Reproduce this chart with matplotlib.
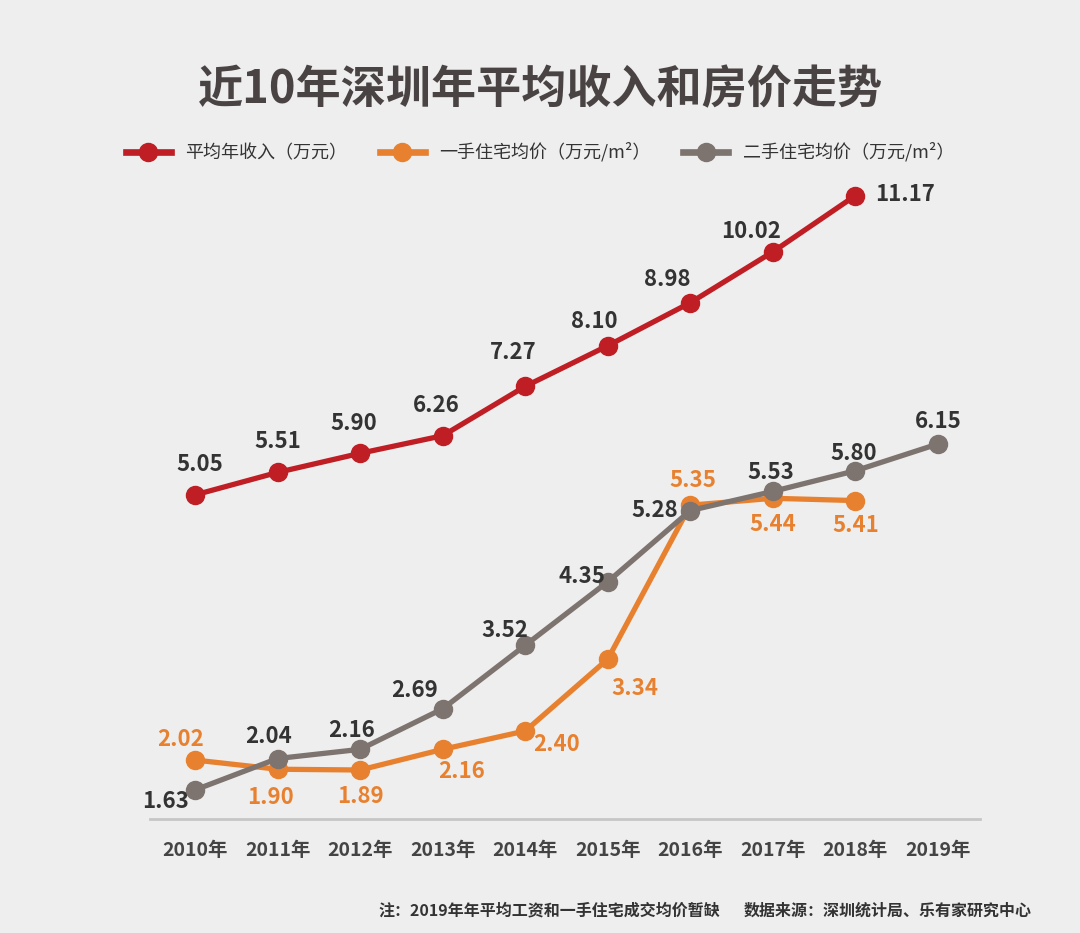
import numpy as np
import matplotlib
matplotlib.use("Agg")
import matplotlib.pyplot as plt
from matplotlib.lines import Line2D

plt.rcParams['font.family'] = ['Noto Sans CJK SC', 'DejaVu Sans']

years = ['2010年', '2011年', '2012年', '2013年', '2014年', '2015年', '2016年', '2017年', '2018年', '2019年']
income = [5.05, 5.51, 5.90, 6.26, 7.27, 8.10, 8.98, 10.02, 11.17]
new_price = [2.02, 1.90, 1.89, 2.16, 2.40, 3.34, 5.35, 5.44, 5.41]
used_price = [1.63, 2.04, 2.16, 2.69, 3.52, 4.35, 5.28, 5.53, 5.80, 6.15]

# label offsets in pixels (dx, dy) relative to each point
income_off = [(5, 30), (0, 31), (-6, 30), (-6, 30), (-12, 34), (-14, 24), (-23, 23), (-22, 20), (50, 1)]
new_off = [(-15, 21), (-7, -28), (0, -26), (19, -22), (31, -14), (27, -29), (2, 25), (0, -26), (0, -25)]
used_off = [(-30, -12), (-9, 22), (-9, 19), (-28, 18), (-20, 15), (-26, 5), (-36, 0), (-2, 19), (-2, 17), (0, 22)]

RED = '#bf1e24'
ORANGE = '#e8812f'
GRAY = '#7d736f'
BG = '#eeeeee'

fig = plt.figure(figsize=(10.8, 9.33), dpi=100, facecolor=BG)
ax = fig.add_axes([0.139, 0.1222, 0.7685, 0.685])
ax.set_facecolor('none')
ax2 = ax.twinx()
ax2.set_facecolor('none')

x = np.arange(len(years))
ax.set_xlim(-0.545, 9.51)
ax.set_ylim(1.25, 9.60)
ax2.set_ylim(-1.576, 11.49)

lw = 3.8
ms = 13
ax2.plot(x[:len(income)], income, color=RED, lw=lw, marker='o', ms=ms, zorder=3)
ax.plot(x[:len(new_price)], new_price, color=ORANGE, lw=lw, marker='o', ms=ms, zorder=2)
ax.plot(x, used_price, color=GRAY, lw=lw, marker='o', ms=ms, zorder=3)

lab = dict(fontsize=16, fontweight='bold', ha='center', va='center', textcoords='offset pixels')
for i, v in enumerate(income):
    ax2.annotate('%.2f' % v, (x[i], v), xytext=income_off[i], color='#333333', **lab)
for i, v in enumerate(new_price):
    ax.annotate('%.2f' % v, (x[i], v), xytext=new_off[i], color=ORANGE, **lab)
for i, v in enumerate(used_price):
    ax.annotate('%.2f' % v, (x[i], v), xytext=used_off[i], color='#333333', **lab)

for a in (ax, ax2):
    for s in ('top', 'left', 'right'):
        a.spines[s].set_visible(False)
    a.set_yticks([])
ax2.spines['bottom'].set_visible(False)
ax.spines['bottom'].set_color('#c6c6c6')
ax.spines['bottom'].set_linewidth(2)
ax.set_xticks(x)
ax.set_xticklabels(years, fontsize=14, color='#444444', fontweight='bold')
ax.tick_params(axis='x', length=0, pad=16)

fig.text(0.5, 0.903, '近10年深圳年平均收入和房价走势', fontsize=32.5, fontweight='bold',
         color='#4a4343', ha='center', va='center')

handles = [Line2D([], [], color=RED, lw=lw + 1, marker='o', ms=ms),
           Line2D([], [], color=ORANGE, lw=lw + 1, marker='o', ms=ms),
           Line2D([], [], color=GRAY, lw=lw + 1, marker='o', ms=ms)]
names = ['平均年收入（万元）', '一手住宅均价（万元/m²）', '二手住宅均价（万元/m²）']
leg = fig.legend(handles, names, loc='center', bbox_to_anchor=(0.500, 0.837), ncol=3,
                 frameon=False, fontsize=13, handlelength=2.5, columnspacing=1.8,
                 handletextpad=0.8)
for t in leg.get_texts():
    t.set_color('#333333')

fig.text(0.35, 0.024, '注：2019年年平均工资和一手住宅成交均价暂缺', fontsize=11.5,
         fontweight='bold', color='#333333', ha='left', va='center')
fig.text(0.955, 0.024, '数据来源：深圳统计局、乐有家研究中心', fontsize=11.5,
         fontweight='bold', color='#333333', ha='right', va='center')

fig.savefig('out.png', dpi=100, facecolor=BG)
